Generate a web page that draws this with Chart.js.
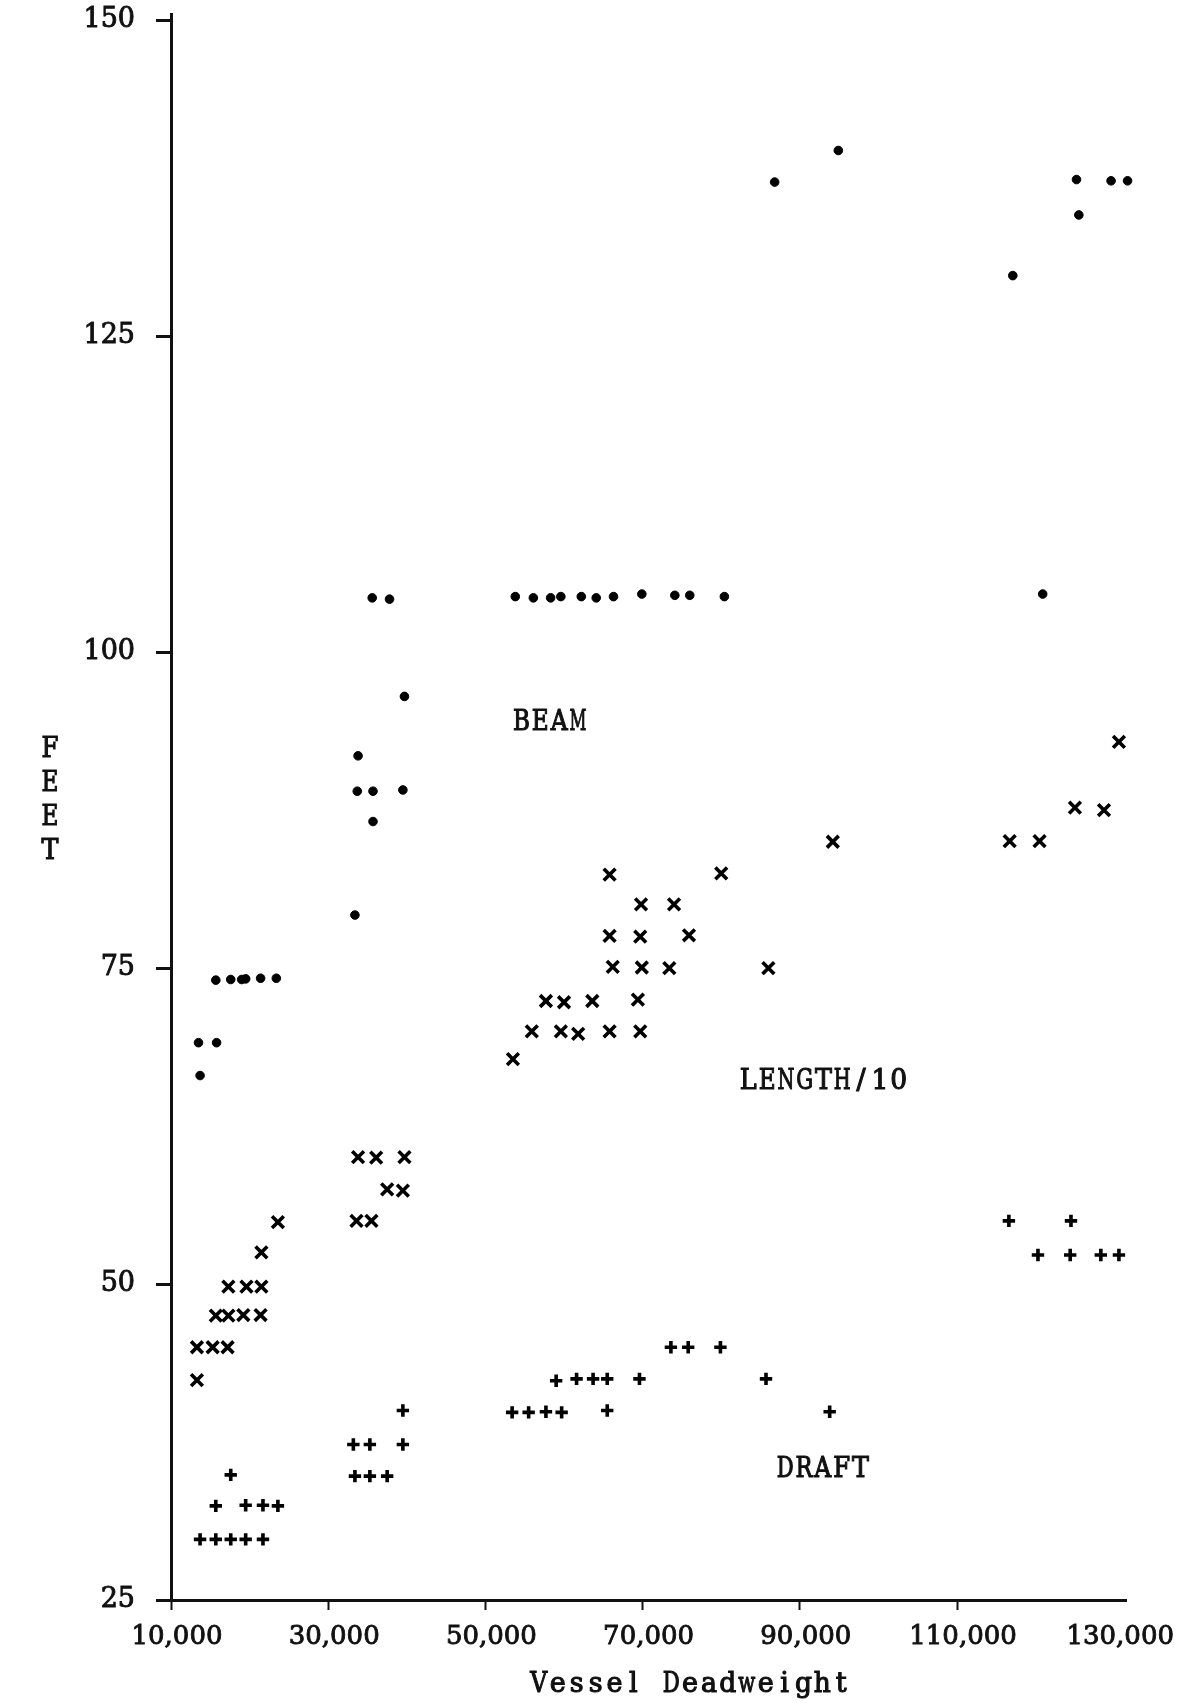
<!DOCTYPE html>
<html>
<head>
<meta charset="utf-8">
<script src="https://cdn.jsdelivr.net/npm/chart.js@4.4.1/dist/chart.umd.min.js"></script>
<style>
  html, body { margin: 0; padding: 0; background: #ffffff; }
  #wrap { width: 1184px; height: 1703px; position: relative; }
  canvas { display: block; }
</style>
</head>
<body>
<div id="wrap"><canvas id="c" width="1184" height="1703"></canvas></div>
<script>
// ---- tick definitions ----
const xTicks = [10000, 30000, 50000, 70000, 90000, 110000, 130000];
const xTickLabels = ['10,000', '30,000', '50,000', '70,000', '90,000', '110,000', '130,000'];
const yTicks = [25, 50, 75, 100, 125, 150];
const xTitle = 'Vessel Deadweight';
const yTitleLetters = ['F', 'E', 'E', 'T'];

// ---- BEAM (dots) ----
const beamX = [13700, 13500, 15800, 15700, 17600, 19000, 19500, 21400, 23400,
  35600, 37800, 39700, 33800, 33700, 35700, 39500, 35700, 33400,
  53800, 56100, 58300, 59600, 62200, 64100, 66300, 69900, 74100, 76000, 80400,
  86800, 94900, 125200, 129600, 131700, 125500, 117100, 120900];
const beamY = [66.5, 69.1, 69.1, 74.05, 74.1, 74.1, 74.15, 74.2, 74.2,
  104.3, 104.2, 96.5, 91.8, 89.0, 89.0, 89.1, 86.6, 79.2,
  104.4, 104.3, 104.3, 104.4, 104.4, 104.3, 104.4, 104.6, 104.5, 104.5, 104.4,
  137.2, 139.7, 137.4, 137.3, 137.3, 134.6, 129.8, 104.6];

// ---- LENGTH/10 (x marks) ----
const lengthX = [13300, 13300, 15300, 17200, 15700, 17300, 19200, 21400, 17300, 19600, 21500, 21500, 23600,
  33600, 35500, 37500, 39500, 33800, 36100, 39700,
  53500, 55900, 59600, 61800, 65800, 69700, 57700, 60000, 63600, 69400,
  66200, 69900, 73400, 86000, 65800, 69700, 75900, 69800, 74000, 65800, 80000, 94200,
  116700, 120500, 125000, 128700, 130600];
const lengthY = [42.4, 45.0, 45.0, 45.0, 47.5, 47.5, 47.55, 47.55, 49.8, 49.8, 49.8, 52.5, 54.9,
  55.0, 55.0, 57.5, 57.4, 60.05, 60.0, 60.05,
  67.8, 70.0, 70.0, 69.8, 70.0, 70.0, 72.4, 72.3, 72.4, 72.5,
  75.1, 75.05, 75.0, 75.0, 77.55, 77.5, 77.6, 80.05, 80.05, 82.4, 82.5, 85.0,
  85.05, 85.05, 87.7, 87.5, 92.9];

// ---- DRAFT (+ marks) ----
const draftX = [13700, 15700, 17600, 19500, 21700, 15700, 19500, 21700, 23600, 17600,
  33400, 35300, 37500, 33200, 35300, 39500, 39500,
  53400, 55500, 57700, 59700, 65500, 59000, 61600, 63700, 65500, 69600,
  73600, 75800, 79900, 85700, 93800,
  116600, 124500, 120300, 124400, 128300, 130600];
const draftY = [29.8, 29.8, 29.8, 29.8, 29.8, 32.45, 32.5, 32.5, 32.45, 34.9,
  34.8, 34.8, 34.8, 37.3, 37.3, 37.3, 40.0,
  39.85, 39.85, 39.9, 39.85, 40.0, 42.35, 42.5, 42.5, 42.5, 42.5,
  45.0, 45.0, 45.0, 42.5, 39.9,
  55.0, 55.0, 52.3, 52.3, 52.3, 52.3];

// ---- in-plot labels (data coordinates of left edge / vertical centre) ----
const noteText = ['BEAM', 'LENGTH/10', 'DRAFT'];
const noteX = [53400, 82250, 86950];
const noteY = [94.4, 66.0, 35.3];

const FONT = "'DejaVu Serif', 'Liberation Serif', serif";
const toPts = (xs, ys) => xs.map((x, i) => ({ x: x, y: ys[i] }));

// typewriter-style text: each character centred in a fixed-width cell
function typeText(ctx, text, x, y, cell) {
  for (let i = 0; i < text.length; i++) {
    const ch = text[i];
    if (ch === ' ') continue;
    const w = ctx.measureText(ch).width;
    const cx = x + cell * (i + 0.5);
    const maxW = cell * 0.9;
    ctx.save();
    ctx.translate(cx, y);
    if (w > maxW) ctx.scale(maxW / w, 1);
    ctx.fillText(ch, 0, 0);
    ctx.strokeText(ch, 0, 0);
    ctx.restore();
  }
}

const textPlugin = {
  id: 'typedText',
  afterDatasetsDraw(chart) {
    const ctx = chart.ctx;
    const xs = chart.scales.x, ys = chart.scales.y;
    ctx.save();
    ctx.fillStyle = '#111';
    ctx.strokeStyle = '#111';
    ctx.lineWidth = 1.1;
    ctx.font = '27px ' + FONT;
    ctx.textAlign = 'center';
    ctx.textBaseline = 'middle';
    noteText.forEach((t, i) => {
      typeText(ctx, t, xs.getPixelForValue(noteX[i]), ys.getPixelForValue(noteY[i]), 18.8);
    });
    // vertical stacked y-axis title "FEET"
    const cy = ys.getPixelForValue(88.2);
    yTitleLetters.forEach((l, i) => {
      typeText(ctx, l, 50 - 9.4, cy + (i - 1.5) * 34, 18.8);
    });
    // x-axis title, typewriter spaced
    typeText(ctx, xTitle, xs.getPixelForValue(55600), chart.height - 18, 18.9);
    ctx.restore();
  }
};

new Chart(document.getElementById('c'), {
  type: 'scatter',
  data: {
    datasets: [
      { label: 'BEAM', data: toPts(beamX, beamY), pointStyle: 'circle', pointRadius: 4.3,
        backgroundColor: '#000', borderColor: '#000', borderWidth: 1, clip: false },
      { label: 'LENGTH/10', data: toPts(lengthX, lengthY), pointStyle: 'crossRot', pointRadius: 8.3,
        backgroundColor: '#000', borderColor: '#000', borderWidth: 3.6, clip: false },
      { label: 'DRAFT', data: toPts(draftX, draftY), pointStyle: 'cross', pointRadius: 6.2,
        backgroundColor: '#000', borderColor: '#000', borderWidth: 3.6, clip: false }
    ]
  },
  options: {
    responsive: false,
    animation: false,
    devicePixelRatio: 1,
    layout: { padding: { left: 0, right: 58, top: 14, bottom: 0 } },
    plugins: { legend: { display: false }, tooltip: { enabled: false } },
    scales: {
      x: {
        type: 'linear',
        min: 10000,
        max: 131500,
        afterFit: (s) => { s.height = 103; s.paddingLeft = 0; s.paddingRight = 0; },
        afterBuildTicks: (s) => { s.ticks = xTicks.map(v => ({ value: v })); },
        border: { display: true, color: '#111', width: 3 },
        grid: {
          drawOnChartArea: false, drawTicks: true, tickLength: 10, tickWidth: 2,
          tickColor: (c) => (c.tick && c.tick.value === 130000) ? 'rgba(0,0,0,0)' : '#111'
        },
        ticks: {
          color: '#111', padding: 14, maxRotation: 0, autoSkip: false, labelOffset: 6,
          textStrokeColor: '#111', textStrokeWidth: 0.9,
          font: { family: FONT, size: 26, lineHeight: 1 },
          callback: (v) => { const i = xTicks.indexOf(v); return i >= 0 ? xTickLabels[i] : ''; }
        },
        title: { display: false }
      },
      y: {
        type: 'linear',
        min: 25,
        max: 150.5,
        afterFit: (s) => { s.width = 171; s.paddingTop = 0; s.paddingBottom = 0; },
        afterBuildTicks: (s) => { s.ticks = yTicks.map(v => ({ value: v })); },
        border: { display: true, color: '#111', width: 3 },
        grid: { drawOnChartArea: false, drawTicks: true, tickLength: 15, tickWidth: 3, tickColor: '#111' },
        ticks: {
          color: '#111', padding: 21,
          textStrokeColor: '#111', textStrokeWidth: 0.9,
          font: { family: FONT, size: 27, lineHeight: 1 },
          callback: (v) => String(v)
        }
      }
    }
  },
  plugins: [textPlugin]
});
</script>
</body>
</html>
